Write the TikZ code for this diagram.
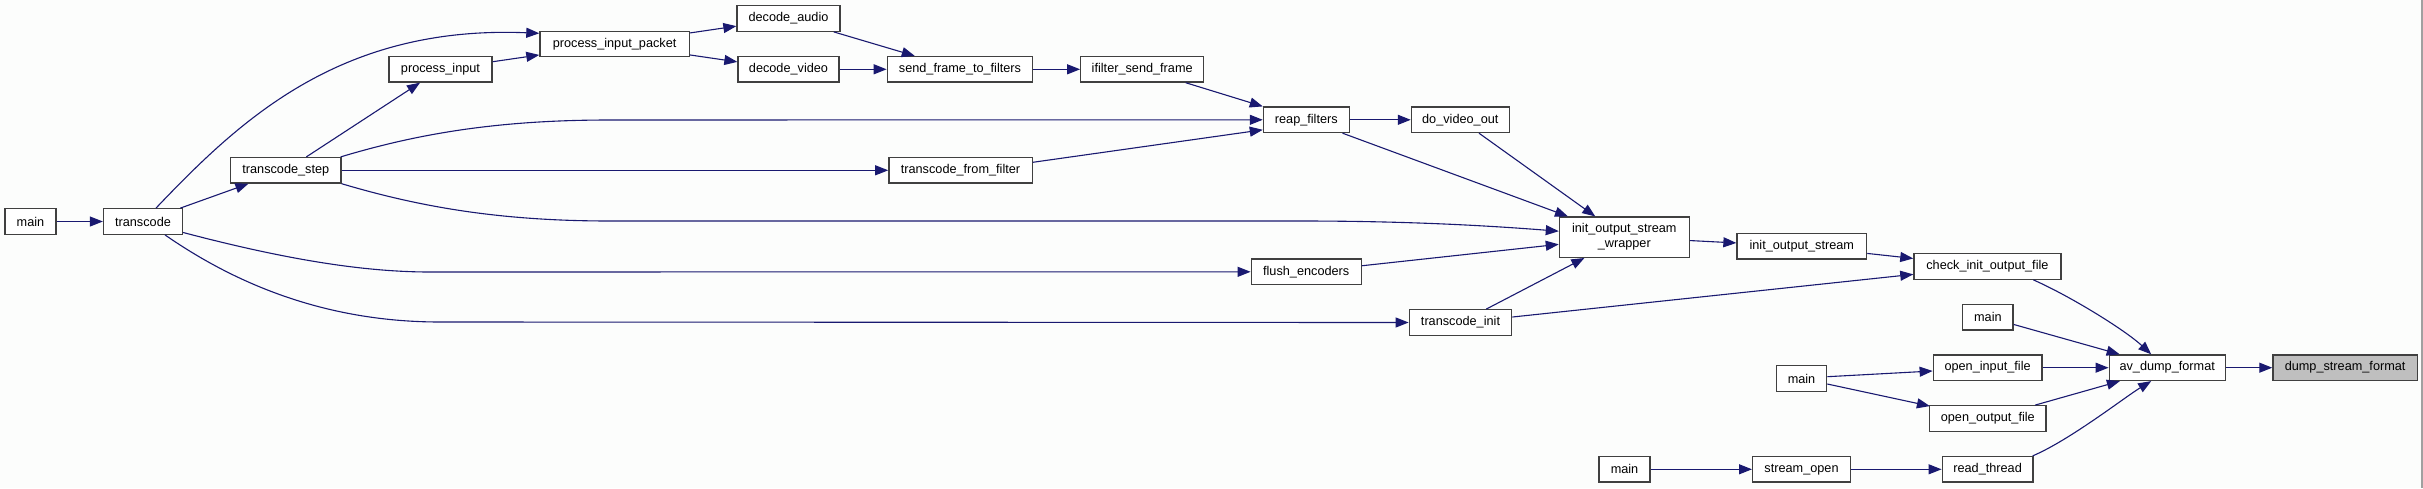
\documentclass[tikz,border=0pt]{standalone}
\usepackage{fontspec}
\setmainfont{Liberation Sans}
\usetikzlibrary{arrows.meta,calc}
\definecolor{edgeblue}{RGB}{25,25,112}
\definecolor{boxline}{RGB}{64,64,64}
\definecolor{hilite}{RGB}{191,191,191}
\definecolor{bgcol}{RGB}{252,253,252}
\definecolor{edgegray}{RGB}{160,160,160}
\begin{document}
\begin{tikzpicture}[x=1pt,y=-1pt,
  fnbox/.style={draw=boxline, line width=1.3pt, fill=white, inner sep=0pt,
    minimum height=25.5pt, font=\fontsize{12.7}{15}\selectfont, align=center},
  call/.style={draw=edgeblue, line width=1.1pt, -{Triangle[length=13pt,width=10pt]}}]
\fill[bgcol] (0,0) rectangle (2423,488);
\useasboundingbox (0,0) rectangle (2423,488);
\draw[edgegray, line width=1.5pt] (2422,0) -- (2422,488);

% nodes
\node[fnbox, minimum width=51pt]    (mainA) at (30.5,221.5) {main};
\node[fnbox, minimum width=79pt]    (transcode) at (143,221.5) {transcode};
\node[fnbox, minimum width=110.4pt] (step) at (285.8,170.3) {transcode\_step};
\node[fnbox, minimum width=103pt]   (pin) at (440.5,69.3) {process\_input};
\node[fnbox, minimum width=149.3pt] (pip) at (614.6,44) {process\_input\_packet};
\node[fnbox, minimum width=103pt]   (daudio) at (788.5,18.5) {decode\_audio};
\node[fnbox, minimum width=101pt]   (dvideo) at (788.5,69.3) {decode\_video};
\node[fnbox, minimum width=145.4pt] (sftf) at (960,69.3) {send\_frame\_to\_filters};
\node[fnbox, minimum width=122.9pt] (isf) at (1142.2,69.3) {ifilter\_send\_frame};
\node[fnbox, minimum width=85.8pt]  (reap) at (1306.3,119.8) {reap\_filters};
\node[fnbox, minimum width=97.8pt]  (dvo) at (1460.3,119.8) {do\_video\_out};
\node[fnbox, minimum width=143.3pt] (tff) at (960.5,170.3) {transcode\_from\_filter};
\node[fnbox, minimum width=129.8pt, minimum height=40.3pt] (wrap) at (1624.3,237.2) {init\_output\_stream\\\_wrapper};
\node[fnbox, minimum width=109.9pt] (flush) at (1306.2,271.8) {flush\_encoders};
\node[fnbox, minimum width=102.5pt] (tinit) at (1460.5,322.5) {transcode\_init};
\node[fnbox, minimum width=129.6pt] (ios) at (1801.8,246.3) {init\_output\_stream};
\node[fnbox, minimum width=147pt]   (check) at (1987.4,266.5) {check\_init\_output\_file};
\node[fnbox, minimum width=50.4pt]  (mainB) at (1987.9,317.2) {main};
\node[fnbox, minimum width=108.7pt] (oif) at (1987.6,367.7) {open\_input\_file};
\node[fnbox, minimum width=116pt]   (av) at (2167.2,367.7) {av\_dump\_format};
\node[fnbox, minimum width=144.4pt, fill=hilite] (dsf) at (2345.1,367.7) {dump\_stream\_format};
\node[fnbox, minimum width=50.3pt]  (mainC) at (1801.5,378.5) {main};
\node[fnbox, minimum width=116.5pt] (oof) at (1987.8,418.5) {open\_output\_file};
\node[fnbox, minimum width=51pt]    (mainD) at (1624.5,469.3) {main};
\node[fnbox, minimum width=97.7pt]  (sopen) at (1801.5,469.3) {stream\_open};
\node[fnbox, minimum width=90.8pt]  (rthread) at (1987.6,469.3) {read\_thread};

% straight edges
\draw[call] (mainA) -- (transcode);
\draw[call] (transcode) -- (step);
\draw[call] (step) -- (pin);
\draw[call] (pin) -- (pip);
\draw[call] (pip) -- (daudio);
\draw[call] (pip) -- (dvideo);
\draw[call] (daudio) -- (sftf);
\draw[call] (dvideo) -- (sftf);
\draw[call] (sftf) -- (isf);
\draw[call] (isf) -- (reap);
\draw[call] (step) -- (tff);
\draw[call] ($(tff.east)+(0,-8)$) -- ($(reap.west)+(0,10)$);
\draw[call] (reap) -- (dvo);
\draw[call] (reap) -- (wrap);
\draw[call] (dvo) -- (wrap);
\draw[call] (flush) -- (wrap);
\draw[call] (tinit) -- (wrap);
\draw[call] (wrap) -- (ios);
\draw[call] (ios) -- (check);
\draw[call] (tinit) -- (check);
\draw[call] (mainB) -- (av);
\draw[call] (oif) -- (av);
\draw[call] (oof) -- (av);
\draw[call] (av) -- (dsf);
\draw[call] ($(mainC.east)+(0,-1.8)$) -- ($(oif.west)+(0,3.3)$);
\draw[call] ($(mainC.east)+(0,5.5)$) -- ($(oof.north west)+(1,1)$);
\draw[call] (mainD) -- (sopen);
\draw[call] (sopen) -- (rthread);

% curved edges
\draw[call] ($(transcode.north)+(13,0)$) .. controls (240,120) and (340,25) .. ($(pip.west)+(0,-10.7)$);
\draw[call] ($(step.north east)+(-1,0)$) .. controls (420,133) and (500,120) .. (610,120) -- (reap.west);
\draw[call] (step.south east) .. controls (420,207) and (500,221) .. (610,221) -- (1300,221)
  .. controls (1400,221) and (1480,225) .. ($(wrap.west)+(0,-6)$);
\draw[call] ($(transcode.east)+(0,11)$) .. controls (280,258) and (360,272) .. (430,272) -- (flush.west);
\draw[call] ($(transcode.south)+(22,0)$) .. controls (230,280) and (320,322) .. (440,322) -- (tinit.west);
\draw[call] ($(check.south)+(46,0)$) .. controls (2070,296) and (2125,330) .. ($(av.north)+(-16,0)$);
\draw[call] ($(rthread.north)+(45,0)$) .. controls (2070,440) and (2125,397) .. ($(av.south)+(-16,0)$);
\end{tikzpicture}
\end{document}
